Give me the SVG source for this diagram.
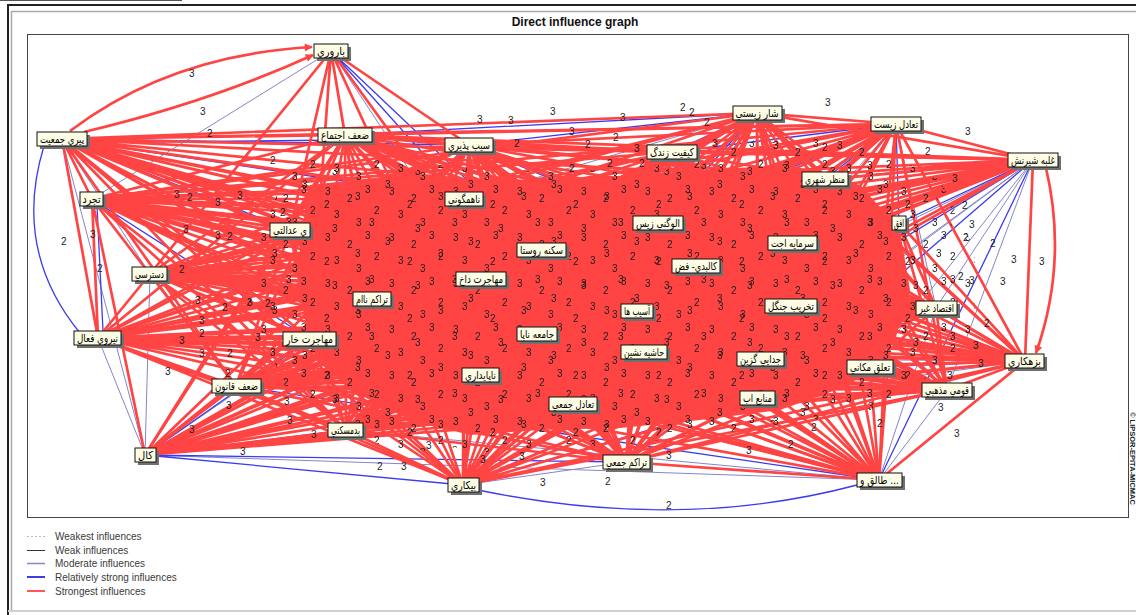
<svg xmlns="http://www.w3.org/2000/svg" width="1136" height="615" viewBox="0 0 1136 615">
<style>
.r{fill:none;stroke:#ff4444;stroke-width:2.7}
.b{fill:none;stroke:#3b3bf0;stroke-width:1.3}
.p{fill:none;stroke:#8585c8;stroke-width:1}
.sh{fill:#707070}
.bx{fill:#fdfde6;stroke:#111;stroke-width:1}
.nt{font-family:"DejaVu Sans",sans-serif;font-size:11px;fill:#000;text-anchor:middle}
.el{font-family:"Liberation Sans",Arial,sans-serif;font-size:10px;fill:#1c1c1c}
.lg{font-family:"Liberation Sans",Arial,sans-serif;font-size:10px;fill:#3a3a3a}
</style>
<defs>
<marker id="ar" viewBox="0 0 10 10" refX="9" refY="5" markerUnits="userSpaceOnUse" markerWidth="9" markerHeight="8" orient="auto"><path d="M0 0L10 5L0 10z" fill="#ff4444"/></marker>
<pattern id="lblA" width="64" height="46" patternUnits="userSpaceOnUse"><text class="el" x="5" y="11">3</text><text class="el" x="27" y="18">2</text><text class="el" x="45" y="9">3</text><text class="el" x="14" y="34">3</text><text class="el" x="36" y="42">3</text><text class="el" x="54" y="30">2</text></pattern>
<pattern id="lblB" width="83" height="57" patternUnits="userSpaceOnUse" patternTransform="translate(13 7)"><text class="el" x="10" y="22">3</text><text class="el" x="40" y="10">3</text><text class="el" x="62" y="30">2</text><text class="el" x="24" y="48">3</text><text class="el" x="70" y="54">3</text></pattern>
</defs>
<rect x="0" y="0" width="1136" height="615" fill="#fff"/>
<line x1="0" y1="0.5" x2="182" y2="0.5" stroke="#555"/>
<path d="M8 615V5H1136" stroke="#222" stroke-width="2" fill="none"/>
<path d="M11.5 610V11.5H1136" stroke="#aaa" stroke-width="1.5" fill="none"/>
<line x1="8" y1="611" x2="1136" y2="611" stroke="#d0d0d0" stroke-width="2"/>
<rect x="27.5" y="34.5" width="1101" height="483" fill="none" stroke="#444"/>
<text x="575" y="26" font-family="Liberation Sans, Arial, sans-serif" font-size="12" font-weight="bold" text-anchor="middle" fill="#111">Direct influence graph</text>
<text transform="translate(1130,412) rotate(90)" font-family="Liberation Sans, Arial, sans-serif" font-size="7.5" font-weight="bold" fill="#222">© LIPSOR-EPITA-MICMAC</text>

<g id="connectors">
<path class="p" d="M331 51L92 199M331 51L481 279M62 139L150 274M62 139L145 455M92 199L150 274M92 199L372 299M150 274L145 455M98 338L145 455M145 455L372 299M145 455L573 404M463 485L626 462M346 430L879 480M145 455L879 480M1033 160L792 243M1033 160L936 308M1033 160L870 367M1033 160L760 359M1033 160L947 390M1033 160L626 462M1033 160L644 352M896 124L936 308M896 124L792 243M757 113L464 199M757 113L541 250M1025 361L757 398M1025 361L760 359M1025 361L573 404M947 390L879 480M936 308L879 480"/>
<path class="b" d="M331 51L464 199M331 51L541 250M62 139L469 145M62 139L464 199M62 139L290 230M97 206L103 331M92 199L310 339M92 199L290 230M145 455L310 339M145 455L346 430M145 455L463 485M145 455L626 462M463 485L757 398M236 386L879 480M310 339L879 480M1033 160L825 179M1033 160L899 223M1033 160L791 306M1033 160L757 398M1033 160L879 480M896 124L825 179M896 124L899 223M896 124L658 223M896 124L672 152M757 113L672 152M757 113L469 145M757 113L658 223M757 113L345 135M1025 361L870 367M672 152L469 145M672 152L464 199M469 145L658 223M62 143L345 140"/>
<path class="b" d="M44 146Q12 250 80 333"/>
<path class="b" d="M478 490Q680 532 857 485"/>
<polygon points="310,185 400,175 500,180 600,178 700,170 790,165 860,185 900,230 910,290 895,340 850,385 780,410 700,420 620,428 540,430 470,435 410,420 360,395 320,360 300,300 300,240" fill="#ff4646"/>
<path class="r" d="M331 51L345 135M331 51L469 145M331 51L290 230M331 51L150 274M331 51L310 339M331 51L372 299M331 51L480 375M331 51L537 334"/>
<path class="r" d="M62 139L345 135M62 139L757 113M62 139L896 124M62 139L1033 160M62 139L672 152M62 139L825 179M62 139L92 199M62 139L98 338M62 139L236 386M62 139L310 339M62 139L372 299M62 139L346 430M62 139L463 485M62 139L626 462M62 139L573 404M62 139L757 398M62 139L879 480M62 139L947 390M62 139L1025 361M62 139L870 367M62 139L936 308M62 139L791 306M62 139L760 359M62 139L644 352M62 139L537 334M62 139L480 375M62 139L637 311M62 139L696 266M62 139L481 279M62 139L541 250M62 139L658 223M62 139L792 243M62 139L899 223"/>
<path class="r" d="M345 135L469 145M345 135L896 124M345 135L1033 160M345 135L672 152M345 135L825 179M345 135L464 199M345 135L290 230M345 135L92 199M345 135L150 274M345 135L98 338M345 135L236 386M345 135L310 339M345 135L372 299M345 135L145 455M345 135L346 430M345 135L463 485M345 135L626 462M345 135L573 404M345 135L757 398M345 135L879 480M345 135L947 390M345 135L1025 361M345 135L870 367M345 135L936 308M345 135L791 306M345 135L760 359M345 135L644 352M345 135L537 334M345 135L480 375M345 135L637 311M345 135L696 266M345 135L481 279M345 135L541 250M345 135L658 223M345 135L792 243M345 135L899 223"/>
<path class="r" d="M469 145L896 124M469 145L1033 160M469 145L825 179M469 145L464 199M469 145L290 230M469 145L92 199M469 145L150 274M469 145L98 338M469 145L236 386M469 145L310 339M469 145L372 299M469 145L145 455M469 145L346 430M469 145L463 485M469 145L626 462M469 145L573 404M469 145L757 398M469 145L879 480M469 145L947 390M469 145L1025 361M469 145L870 367M469 145L936 308M469 145L791 306M469 145L760 359M469 145L644 352M469 145L537 334M469 145L480 375M469 145L637 311M469 145L696 266M469 145L481 279M469 145L541 250M469 145L792 243M469 145L899 223"/>
<path class="r" d="M757 113L896 124M757 113L1033 160M757 113L825 179M757 113L290 230M757 113L92 199M757 113L150 274M757 113L98 338M757 113L236 386M757 113L310 339M757 113L372 299M757 113L145 455M757 113L346 430M757 113L463 485M757 113L626 462M757 113L573 404M757 113L757 398M757 113L879 480M757 113L947 390M757 113L1025 361M757 113L870 367M757 113L936 308M757 113L791 306M757 113L760 359M757 113L644 352M757 113L537 334M757 113L480 375M757 113L637 311M757 113L696 266M757 113L481 279M757 113L792 243M757 113L899 223"/>
<path class="r" d="M896 124L1033 160M896 124L464 199M896 124L290 230M896 124L92 199M896 124L150 274M896 124L98 338M896 124L236 386M896 124L310 339M896 124L372 299M896 124L145 455M896 124L346 430M896 124L463 485M896 124L626 462M896 124L573 404M896 124L757 398M896 124L879 480M896 124L947 390M896 124L1025 361M896 124L870 367M896 124L791 306M896 124L760 359M896 124L644 352M896 124L537 334M896 124L480 375M896 124L637 311M896 124L696 266M896 124L481 279M896 124L541 250"/>
<path class="r" d="M1033 160L672 152M1033 160L464 199M1033 160L290 230M1033 160L92 199M1033 160L150 274M1033 160L98 338M1033 160L236 386M1033 160L310 339M1033 160L372 299M1033 160L145 455M1033 160L346 430M1033 160L463 485M1033 160L573 404M1033 160L1025 361M1033 160L537 334M1033 160L480 375M1033 160L637 311M1033 160L696 266M1033 160L481 279M1033 160L541 250M1033 160L658 223"/>
<path class="r" d="M672 152L825 179M672 152L290 230M672 152L92 199M672 152L150 274M672 152L98 338M672 152L236 386M672 152L310 339M672 152L372 299M672 152L145 455M672 152L346 430M672 152L463 485M672 152L626 462M672 152L573 404M672 152L757 398M672 152L879 480M672 152L947 390M672 152L1025 361M672 152L870 367M672 152L936 308M672 152L791 306M672 152L760 359M672 152L644 352M672 152L537 334M672 152L480 375M672 152L637 311M672 152L696 266M672 152L481 279M672 152L541 250M672 152L658 223M672 152L792 243M672 152L899 223"/>
<path class="r" d="M825 179L464 199M825 179L290 230M825 179L92 199M825 179L150 274M825 179L98 338M825 179L236 386M825 179L310 339M825 179L372 299M825 179L145 455M825 179L346 430M825 179L463 485M825 179L626 462M825 179L573 404M825 179L757 398M825 179L879 480M825 179L947 390M825 179L1025 361M825 179L870 367M825 179L936 308M825 179L791 306M825 179L760 359M825 179L644 352M825 179L537 334M825 179L480 375M825 179L637 311M825 179L696 266M825 179L481 279M825 179L541 250M825 179L658 223M825 179L792 243M825 179L899 223"/>
<path class="r" d="M464 199L290 230M464 199L92 199M464 199L150 274M464 199L98 338M464 199L236 386M464 199L310 339M464 199L372 299M464 199L145 455M464 199L346 430M464 199L463 485M464 199L626 462M464 199L573 404M464 199L757 398M464 199L879 480M464 199L947 390M464 199L1025 361M464 199L870 367M464 199L936 308M464 199L791 306M464 199L760 359M464 199L644 352M464 199L537 334M464 199L480 375M464 199L637 311M464 199L696 266M464 199L481 279M464 199L541 250M464 199L658 223M464 199L792 243M464 199L899 223"/>
<path class="r" d="M290 230L150 274M290 230L98 338M290 230L236 386M290 230L310 339M290 230L372 299M290 230L145 455M290 230L346 430M290 230L463 485M290 230L626 462M290 230L573 404M290 230L757 398M290 230L879 480M290 230L947 390M290 230L1025 361M290 230L870 367M290 230L936 308M290 230L791 306M290 230L760 359M290 230L644 352M290 230L537 334M290 230L480 375M290 230L637 311M290 230L696 266M290 230L481 279M290 230L541 250M290 230L658 223M290 230L792 243M290 230L899 223"/>
<path class="r" d="M92 199L98 338M92 199L236 386M92 199L145 455M92 199L346 430M92 199L463 485M92 199L626 462M92 199L573 404M92 199L757 398M92 199L879 480M92 199L947 390M92 199L1025 361M92 199L870 367M92 199L936 308M92 199L791 306M92 199L760 359M92 199L644 352M92 199L537 334M92 199L480 375M92 199L637 311M92 199L696 266M92 199L481 279M92 199L541 250M92 199L658 223M92 199L792 243M92 199L899 223"/>
<path class="r" d="M150 274L98 338M150 274L236 386M150 274L310 339M150 274L372 299M150 274L346 430M150 274L463 485M150 274L626 462M150 274L573 404M150 274L757 398M150 274L879 480M150 274L947 390M150 274L1025 361M150 274L870 367M150 274L936 308M150 274L791 306M150 274L760 359M150 274L644 352M150 274L537 334M150 274L480 375M150 274L637 311M150 274L696 266M150 274L481 279M150 274L541 250M150 274L658 223M150 274L792 243M150 274L899 223"/>
<path class="r" d="M98 338L236 386M98 338L310 339M98 338L372 299M98 338L346 430M98 338L463 485M98 338L626 462M98 338L573 404M98 338L757 398M98 338L879 480M98 338L947 390M98 338L1025 361M98 338L870 367M98 338L936 308M98 338L791 306M98 338L760 359M98 338L644 352M98 338L537 334M98 338L480 375M98 338L637 311M98 338L696 266M98 338L481 279M98 338L541 250M98 338L658 223M98 338L792 243M98 338L899 223"/>
<path class="r" d="M236 386L310 339M236 386L372 299M236 386L145 455M236 386L346 430M236 386L463 485M236 386L626 462M236 386L573 404M236 386L757 398M236 386L947 390M236 386L1025 361M236 386L870 367M236 386L936 308M236 386L791 306M236 386L760 359M236 386L644 352M236 386L537 334M236 386L480 375M236 386L637 311M236 386L696 266M236 386L481 279M236 386L541 250M236 386L658 223M236 386L792 243M236 386L899 223"/>
<path class="r" d="M310 339L372 299M310 339L346 430M310 339L463 485M310 339L626 462M310 339L573 404M310 339L757 398M310 339L947 390M310 339L1025 361M310 339L870 367M310 339L936 308M310 339L791 306M310 339L760 359M310 339L644 352M310 339L537 334M310 339L480 375M310 339L637 311M310 339L696 266M310 339L481 279M310 339L541 250M310 339L658 223M310 339L792 243M310 339L899 223"/>
<path class="r" d="M372 299L346 430M372 299L463 485M372 299L626 462M372 299L573 404M372 299L757 398M372 299L879 480M372 299L947 390M372 299L1025 361M372 299L870 367M372 299L936 308M372 299L791 306M372 299L760 359M372 299L644 352M372 299L537 334M372 299L480 375M372 299L637 311M372 299L696 266M372 299L481 279M372 299L541 250M372 299L658 223M372 299L792 243M372 299L899 223"/>
<path class="r" d="M145 455L757 398M145 455L947 390M145 455L1025 361M145 455L870 367M145 455L936 308M145 455L791 306M145 455L760 359M145 455L644 352M145 455L537 334M145 455L480 375M145 455L637 311M145 455L696 266M145 455L481 279M145 455L541 250M145 455L658 223M145 455L792 243M145 455L899 223"/>
<path class="r" d="M346 430L463 485M346 430L626 462M346 430L573 404M346 430L757 398M346 430L947 390M346 430L1025 361M346 430L870 367M346 430L936 308M346 430L791 306M346 430L760 359M346 430L644 352M346 430L537 334M346 430L480 375M346 430L637 311M346 430L696 266M346 430L481 279M346 430L541 250M346 430L658 223M346 430L792 243M346 430L899 223"/>
<path class="r" d="M463 485L573 404M463 485L947 390M463 485L1025 361M463 485L870 367M463 485L936 308M463 485L791 306M463 485L760 359M463 485L644 352M463 485L537 334M463 485L480 375M463 485L637 311M463 485L696 266M463 485L481 279M463 485L541 250M463 485L658 223M463 485L792 243M463 485L899 223"/>
<path class="r" d="M626 462L573 404M626 462L757 398M626 462L879 480M626 462L947 390M626 462L1025 361M626 462L870 367M626 462L936 308M626 462L791 306M626 462L760 359M626 462L644 352M626 462L537 334M626 462L480 375M626 462L637 311M626 462L696 266M626 462L481 279M626 462L541 250M626 462L658 223M626 462L792 243M626 462L899 223"/>
<path class="r" d="M573 404L757 398M573 404L879 480M573 404L947 390M573 404L870 367M573 404L936 308M573 404L791 306M573 404L760 359M573 404L644 352M573 404L537 334M573 404L480 375M573 404L637 311M573 404L696 266M573 404L481 279M573 404L541 250M573 404L658 223M573 404L792 243M573 404L899 223"/>
<path class="r" d="M757 398L879 480M757 398L947 390M757 398L870 367M757 398L936 308M757 398L791 306M757 398L760 359M757 398L644 352M757 398L537 334M757 398L480 375M757 398L637 311M757 398L696 266M757 398L481 279M757 398L541 250M757 398L658 223M757 398L792 243M757 398L899 223"/>
<path class="r" d="M879 480L1025 361M879 480L870 367M879 480L791 306M879 480L760 359M879 480L644 352M879 480L537 334M879 480L480 375M879 480L637 311M879 480L696 266M879 480L481 279M879 480L541 250M879 480L658 223M879 480L792 243M879 480L899 223"/>
<path class="r" d="M947 390L1025 361M947 390L870 367M947 390L936 308M947 390L791 306M947 390L760 359M947 390L644 352M947 390L537 334M947 390L480 375M947 390L637 311M947 390L696 266M947 390L481 279M947 390L541 250M947 390L658 223M947 390L792 243M947 390L899 223"/>
<path class="r" d="M1025 361L936 308M1025 361L791 306M1025 361L644 352M1025 361L537 334M1025 361L480 375M1025 361L637 311M1025 361L696 266M1025 361L481 279M1025 361L541 250M1025 361L658 223M1025 361L792 243M1025 361L899 223"/>
<path class="r" d="M870 367L936 308M870 367L791 306M870 367L760 359M870 367L644 352M870 367L537 334M870 367L480 375M870 367L637 311M870 367L696 266M870 367L481 279M870 367L541 250M870 367L658 223M870 367L792 243M870 367L899 223"/>
<path class="r" d="M936 308L791 306M936 308L760 359M936 308L644 352M936 308L537 334M936 308L480 375M936 308L637 311M936 308L696 266M936 308L481 279M936 308L541 250M936 308L658 223M936 308L792 243M936 308L899 223"/>
<path class="r" d="M791 306L760 359M791 306L644 352M791 306L537 334M791 306L480 375M791 306L637 311M791 306L696 266M791 306L481 279M791 306L541 250M791 306L658 223M791 306L792 243M791 306L899 223"/>
<path class="r" d="M760 359L644 352M760 359L537 334M760 359L480 375M760 359L637 311M760 359L696 266M760 359L481 279M760 359L541 250M760 359L658 223M760 359L792 243M760 359L899 223"/>
<path class="r" d="M644 352L537 334M644 352L480 375M644 352L637 311M644 352L696 266M644 352L481 279M644 352L541 250M644 352L658 223M644 352L792 243M644 352L899 223"/>
<path class="r" d="M537 334L480 375M537 334L637 311M537 334L696 266M537 334L481 279M537 334L541 250M537 334L658 223M537 334L792 243M537 334L899 223"/>
<path class="r" d="M480 375L637 311M480 375L696 266M480 375L481 279M480 375L541 250M480 375L658 223M480 375L792 243M480 375L899 223"/>
<path class="r" d="M637 311L696 266M637 311L481 279M637 311L541 250M637 311L658 223M637 311L792 243M637 311L899 223"/>
<path class="r" d="M696 266L481 279M696 266L541 250M696 266L658 223M696 266L792 243M696 266L899 223"/>
<path class="r" d="M481 279L541 250M481 279L658 223M481 279L792 243M481 279L899 223M541 250L658 223M541 250L792 243M541 250L899 223M658 223L792 243M658 223L899 223M792 243L899 223"/>
<path class="r" marker-end="url(#ar)" d="M70 131Q170 55 312 47"/>
<path class="r" marker-end="url(#ar)" d="M84 132Q210 102 313 55"/>
<path class="r" marker-end="url(#ar)" d="M1046 168Q1068 262 1036 353"/>
</g>

<polygon points="280,160 400,160 480,170 560,172 640,168 700,158 780,132 860,138 940,180 975,250 975,330 940,370 870,410 790,425 700,435 620,445 540,448 450,455 380,445 320,410 270,375 245,320 255,260 265,200" fill="url(#lblA)"/>
<polygon points="290,170 400,168 480,175 560,178 640,172 700,165 780,140 860,145 930,185 965,250 965,330 930,365 860,405 790,420 700,430 620,440 540,442 450,448 380,438 325,405 278,370 255,320 262,260 272,205" fill="url(#lblB)"/>

<g id="edge-labels" class="el">
<text x="189" y="77">3</text><text x="200" y="115">3</text><text x="207" y="137">2</text><text x="270" y="164">2</text>
<text x="61" y="245">2</text><text x="90" y="238">3</text><text x="97" y="272">2</text>
<text x="174" y="198">3</text><text x="187" y="201">2</text><text x="215" y="206">3</text><text x="237" y="199">3</text><text x="280" y="216">2</text>
<text x="183" y="233">3</text><text x="215" y="239">3</text><text x="227" y="240">2</text><text x="179" y="273">2</text>
<text x="195" y="304">3</text><text x="222" y="311">2</text><text x="247" y="306">3</text><text x="265" y="307">2</text>
<text x="199" y="324">3</text><text x="199" y="337">2</text><text x="179" y="344">3</text><text x="255" y="341">3</text>
<text x="199" y="357">3</text><text x="227" y="357">2</text><text x="165" y="375">3</text><text x="225" y="377">2</text>
<text x="226" y="409">3</text><text x="189" y="433">3</text><text x="287" y="424">3</text><text x="311" y="438">3</text>
<text x="240" y="455">3</text><text x="377" y="470">2</text><text x="401" y="470">3</text><text x="284" y="405">3</text><text x="374" y="428">3</text>
<text x="426" y="449">3</text><text x="480" y="463">3</text><text x="519" y="460">3</text><text x="540" y="486">3</text><text x="605" y="485">2</text>
<text x="666" y="509">2</text><text x="666" y="459">3</text><text x="746" y="454">3</text><text x="788" y="448">2</text><text x="811" y="431">2</text>
<text x="877" y="427">2</text><text x="954" y="437">3</text><text x="938" y="411">3</text><text x="947" y="379">3</text><text x="978" y="367">3</text>
<text x="973" y="349">3</text><text x="984" y="327">2</text><text x="1000" y="285">3</text><text x="969" y="284">3</text><text x="958" y="280">2</text>
<text x="1011" y="263">3</text><text x="1039" y="265">3</text><text x="990" y="247">2</text><text x="963" y="241">2</text><text x="969" y="228">3</text>
<text x="962" y="209">2</text><text x="952" y="182">3</text><text x="925" y="155">2</text><text x="965" y="135">3</text><text x="825" y="106">3</text>
<text x="550" y="115">3</text><text x="477" y="123">3</text><text x="508" y="124">3</text><text x="620" y="121">3</text><text x="680" y="111">2</text>
<text x="689" y="116">2</text><text x="704" y="126">2</text><text x="569" y="135">3</text><text x="613" y="141">2</text><text x="514" y="147">2</text>
<text x="585" y="148">2</text><text x="634" y="152">3</text><text x="712" y="147">3</text><text x="607" y="167">2</text><text x="639" y="167">2</text><text x="569" y="172">2</text>
</g>

<g id="n1"><rect class="sh" x="317" y="47" width="34" height="14"/><rect class="bx" x="314" y="44" width="34" height="14"/><text class="nt" x="331" y="55" textLength="28" lengthAdjust="spacingAndGlyphs">باروري</text></g>
<g id="n2"><rect class="sh" x="40" y="135" width="50" height="14"/><rect class="bx" x="37" y="132" width="50" height="14"/><text class="nt" x="62" y="143" textLength="44" lengthAdjust="spacingAndGlyphs">پيري جمعيت</text></g>
<g id="n3"><rect class="sh" x="321" y="131" width="54" height="14"/><rect class="bx" x="318" y="128" width="54" height="14"/><text class="nt" x="345" y="139" textLength="48" lengthAdjust="spacingAndGlyphs">ضعف اجتماع</text></g>
<g id="n4"><rect class="sh" x="448" y="141" width="48" height="14"/><rect class="bx" x="445" y="138" width="48" height="14"/><text class="nt" x="469" y="149" textLength="42" lengthAdjust="spacingAndGlyphs">سيب پذيري</text></g>
<g id="n5"><rect class="sh" x="736" y="109" width="49" height="14"/><rect class="bx" x="733" y="106" width="49" height="14"/><text class="nt" x="757" y="117" textLength="43" lengthAdjust="spacingAndGlyphs">شار زيستي</text></g>
<g id="n6"><rect class="sh" x="874" y="120" width="50" height="14"/><rect class="bx" x="871" y="117" width="50" height="14"/><text class="nt" x="896" y="128" textLength="44" lengthAdjust="spacingAndGlyphs">تعادل زيست</text></g>
<g id="n7"><rect class="sh" x="1011" y="156" width="50" height="14"/><rect class="bx" x="1008" y="153" width="50" height="14"/><text class="nt" x="1033" y="164" textLength="44" lengthAdjust="spacingAndGlyphs">غلبه شيرنش</text></g>
<g id="n8"><rect class="sh" x="650" y="148" width="50" height="14"/><rect class="bx" x="647" y="145" width="50" height="14"/><text class="nt" x="672" y="156" textLength="44" lengthAdjust="spacingAndGlyphs">كيفيت زندگ</text></g>
<g id="n9"><rect class="sh" x="805" y="175" width="46" height="14"/><rect class="bx" x="802" y="172" width="46" height="14"/><text class="nt" x="825" y="183" textLength="40" lengthAdjust="spacingAndGlyphs">منظر شهري</text></g>
<g id="n10"><rect class="sh" x="448" y="195" width="38" height="14"/><rect class="bx" x="445" y="192" width="38" height="14"/><text class="nt" x="464" y="203" textLength="32" lengthAdjust="spacingAndGlyphs">ناهمگوني</text></g>
<g id="n11"><rect class="sh" x="273" y="226" width="40" height="14"/><rect class="bx" x="270" y="223" width="40" height="14"/><text class="nt" x="290" y="234" textLength="34" lengthAdjust="spacingAndGlyphs">ي عدالتي</text></g>
<g id="n12"><rect class="sh" x="83" y="195" width="23" height="14"/><rect class="bx" x="80" y="192" width="23" height="14"/><text class="nt" x="91.5" y="203" textLength="18" lengthAdjust="spacingAndGlyphs">تجرد</text></g>
<g id="n13"><rect class="sh" x="135" y="270" width="35" height="14"/><rect class="bx" x="132" y="267" width="35" height="14"/><text class="nt" x="149.5" y="278" textLength="29" lengthAdjust="spacingAndGlyphs">دسترسي</text></g>
<g id="n14"><rect class="sh" x="77" y="334" width="47" height="14"/><rect class="bx" x="74" y="331" width="47" height="14"/><text class="nt" x="97.5" y="342" textLength="41" lengthAdjust="spacingAndGlyphs">نيروي فعال</text></g>
<g id="n15"><rect class="sh" x="215" y="382" width="49" height="14"/><rect class="bx" x="212" y="379" width="49" height="14"/><text class="nt" x="236.5" y="390" textLength="43" lengthAdjust="spacingAndGlyphs">ضعف قانون</text></g>
<g id="n16"><rect class="sh" x="286" y="335" width="53" height="14"/><rect class="bx" x="283" y="332" width="53" height="14"/><text class="nt" x="309.5" y="343" textLength="47" lengthAdjust="spacingAndGlyphs">مهاجرت خار</text></g>
<g id="n17"><rect class="sh" x="356" y="295" width="38" height="14"/><rect class="bx" x="353" y="292" width="38" height="14"/><text class="nt" x="372" y="303" textLength="32" lengthAdjust="spacingAndGlyphs">تراكم ناام</text></g>
<g id="n18"><rect class="sh" x="138" y="451" width="21" height="14"/><rect class="bx" x="135" y="448" width="21" height="14"/><text class="nt" x="145.5" y="459" textLength="15" lengthAdjust="spacingAndGlyphs">كال</text></g>
<g id="n19"><rect class="sh" x="331" y="426" width="35" height="14"/><rect class="bx" x="328" y="423" width="35" height="14"/><text class="nt" x="345.5" y="434" textLength="29" lengthAdjust="spacingAndGlyphs">بدمسكني</text></g>
<g id="n20"><rect class="sh" x="451" y="481" width="31" height="14"/><rect class="bx" x="448" y="478" width="31" height="14"/><text class="nt" x="463.5" y="489" textLength="25" lengthAdjust="spacingAndGlyphs">بيكاري</text></g>
<g id="n21"><rect class="sh" x="606" y="458" width="47" height="14"/><rect class="bx" x="603" y="455" width="47" height="14"/><text class="nt" x="626.5" y="466" textLength="41" lengthAdjust="spacingAndGlyphs">تراكم جمعي</text></g>
<g id="n22"><rect class="sh" x="552" y="400" width="48" height="14"/><rect class="bx" x="549" y="397" width="48" height="14"/><text class="nt" x="573" y="408" textLength="42" lengthAdjust="spacingAndGlyphs">تعادل جمعي</text></g>
<g id="n23"><rect class="sh" x="743" y="394" width="35" height="14"/><rect class="bx" x="740" y="391" width="35" height="14"/><text class="nt" x="757.5" y="402" textLength="29" lengthAdjust="spacingAndGlyphs">منابع اب</text></g>
<g id="n24"><rect class="sh" x="860" y="476" width="45" height="14"/><rect class="bx" x="857" y="473" width="45" height="14"/><text class="nt" x="879.5" y="484" textLength="39" lengthAdjust="spacingAndGlyphs">طالق و ...</text></g>
<g id="n25"><rect class="sh" x="925" y="386" width="50" height="14"/><rect class="bx" x="922" y="383" width="50" height="14"/><text class="nt" x="947" y="394" textLength="44" lengthAdjust="spacingAndGlyphs">قومي مذهبي</text></g>
<g id="n26"><rect class="sh" x="1008" y="357" width="39" height="14"/><rect class="bx" x="1005" y="354" width="39" height="14"/><text class="nt" x="1024.5" y="365" textLength="33" lengthAdjust="spacingAndGlyphs">بزهكاري</text></g>
<g id="n27"><rect class="sh" x="850" y="363" width="46" height="14"/><rect class="bx" x="847" y="360" width="46" height="14"/><text class="nt" x="870" y="371" textLength="40" lengthAdjust="spacingAndGlyphs">تعلق مكاني</text></g>
<g id="n28"><rect class="sh" x="919" y="304" width="41" height="14"/><rect class="bx" x="916" y="301" width="41" height="14"/><text class="nt" x="936.5" y="312" textLength="35" lengthAdjust="spacingAndGlyphs">اقتصاد غير</text></g>
<g id="n29"><rect class="sh" x="768" y="302" width="52" height="14"/><rect class="bx" x="765" y="299" width="52" height="14"/><text class="nt" x="791" y="310" textLength="46" lengthAdjust="spacingAndGlyphs">تخريب جنگل</text></g>
<g id="n30"><rect class="sh" x="740" y="355" width="47" height="14"/><rect class="bx" x="737" y="352" width="47" height="14"/><text class="nt" x="760.5" y="363" textLength="41" lengthAdjust="spacingAndGlyphs">جدايي گزين</text></g>
<g id="n31"><rect class="sh" x="624" y="348" width="46" height="14"/><rect class="bx" x="621" y="345" width="46" height="14"/><text class="nt" x="644" y="356" textLength="40" lengthAdjust="spacingAndGlyphs">حاشيه نشين</text></g>
<g id="n32"><rect class="sh" x="520" y="330" width="40" height="14"/><rect class="bx" x="517" y="327" width="40" height="14"/><text class="nt" x="537" y="338" textLength="34" lengthAdjust="spacingAndGlyphs">جامعه ناپا</text></g>
<g id="n33"><rect class="sh" x="465" y="371" width="37" height="14"/><rect class="bx" x="462" y="368" width="37" height="14"/><text class="nt" x="480.5" y="379" textLength="31" lengthAdjust="spacingAndGlyphs">ناپايداري</text></g>
<g id="n34"><rect class="sh" x="624" y="307" width="32" height="14"/><rect class="bx" x="621" y="304" width="32" height="14"/><text class="nt" x="637" y="315" textLength="26" lengthAdjust="spacingAndGlyphs">آسيب ها</text></g>
<g id="n35"><rect class="sh" x="675" y="262" width="48" height="14"/><rect class="bx" x="672" y="259" width="48" height="14"/><text class="nt" x="696" y="270" textLength="42" lengthAdjust="spacingAndGlyphs">كالبدي- فض</text></g>
<g id="n36"><rect class="sh" x="459" y="275" width="50" height="14"/><rect class="bx" x="456" y="272" width="50" height="14"/><text class="nt" x="481" y="283" textLength="44" lengthAdjust="spacingAndGlyphs">مهاجرت داخ</text></g>
<g id="n37"><rect class="sh" x="520" y="246" width="49" height="14"/><rect class="bx" x="517" y="243" width="49" height="14"/><text class="nt" x="541.5" y="254" textLength="43" lengthAdjust="spacingAndGlyphs">سكنه روستا</text></g>
<g id="n38"><rect class="sh" x="636" y="219" width="50" height="14"/><rect class="bx" x="633" y="216" width="50" height="14"/><text class="nt" x="658" y="227" textLength="44" lengthAdjust="spacingAndGlyphs">الوگني زيس</text></g>
<g id="n39"><rect class="sh" x="771" y="239" width="49" height="14"/><rect class="bx" x="768" y="236" width="49" height="14"/><text class="nt" x="792.5" y="247" textLength="43" lengthAdjust="spacingAndGlyphs">سرمايه اجت</text></g>
<g id="n40"><rect class="sh" x="895" y="219" width="14" height="14"/><rect class="bx" x="892" y="216" width="14" height="14"/><text class="nt" x="899" y="227" textLength="10" lengthAdjust="spacingAndGlyphs">افق</text></g>

<g id="legend">
<line x1="27" y1="536.5" x2="45" y2="536.5" stroke="#bbb" stroke-dasharray="2 2"/>
<line x1="27" y1="550.5" x2="45" y2="550.5" stroke="#333"/>
<line x1="27" y1="563.5" x2="45" y2="563.5" stroke="#8585c8" stroke-width="1.5"/>
<line x1="27" y1="577" x2="45" y2="577" stroke="#3b3bf0" stroke-width="2"/>
<line x1="27" y1="591" x2="45" y2="591" stroke="#ff5555" stroke-width="2"/>
<text class="lg" x="55" y="540">Weakest influences</text>
<text class="lg" x="55" y="554">Weak influences</text>
<text class="lg" x="55" y="567">Moderate influences</text>
<text class="lg" x="55" y="581">Relatively strong influences</text>
<text class="lg" x="55" y="595">Strongest influences</text>
</g>
</svg>
